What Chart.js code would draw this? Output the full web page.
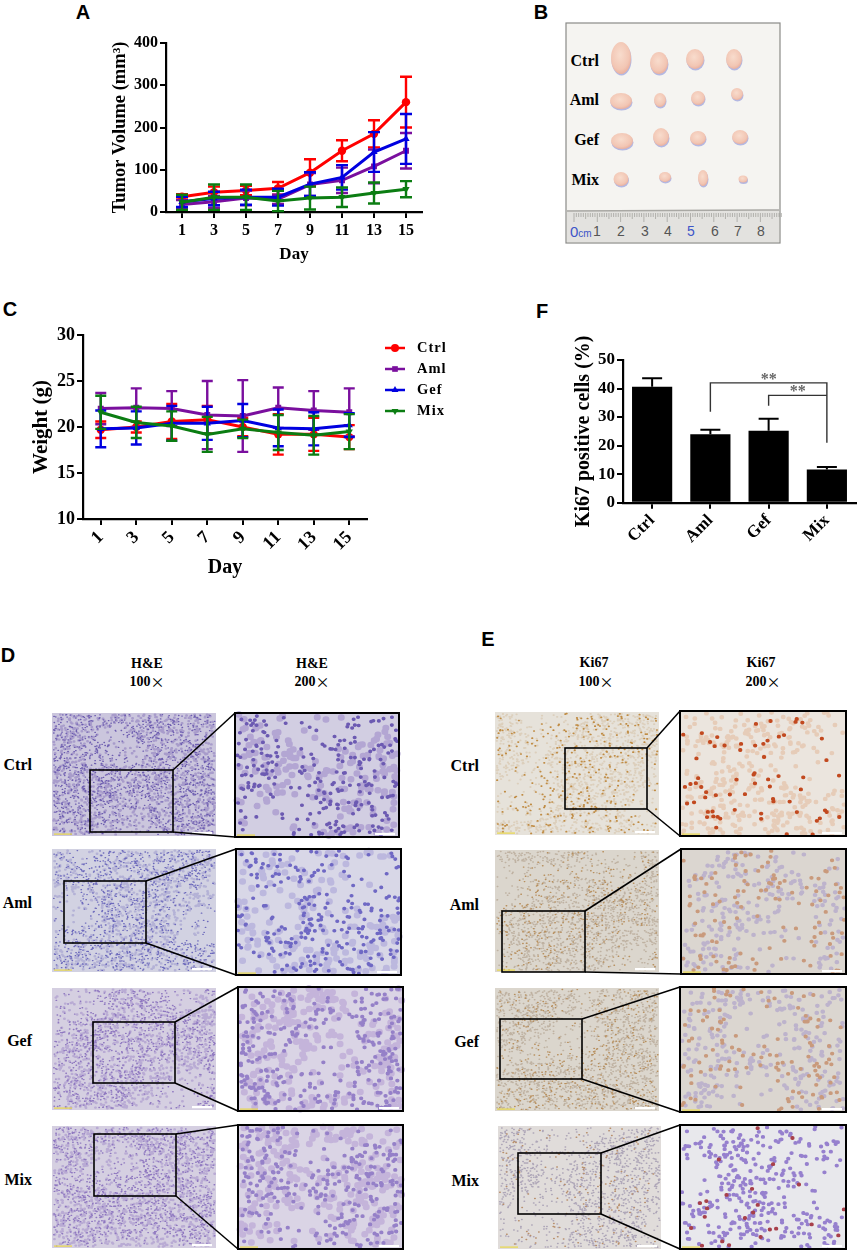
<!DOCTYPE html>
<html>
<head>
<meta charset="utf-8">
<title>Tumor figure</title>
<script src="https://cdn.jsdelivr.net/npm/chart.js@4"></script>
<style>
  html, body { margin: 0; padding: 0; background: #fff; }
  #page { position: relative; width: 858px; height: 1252px; overflow: hidden; }
  #photos { position: absolute; left: 0; top: 0; }
  canvas { position: absolute; }
  #chartA { left: 109px; top: 0; }
  #chartC { left: 29px; top: 300px; }
  #chartF { left: 572px; top: 330px; }
  text { font-family: "Liberation Serif", serif; font-weight: bold; fill: #000; }
  text.letter { font-family: "Liberation Sans", sans-serif; font-size: 20px; }
</style>
</head>
<body>
<div id="page">
  <svg id="photos" width="858" height="1252" xmlns="http://www.w3.org/2000/svg"></svg>
  <canvas id="chartA" width="411" height="265"></canvas>
  <canvas id="chartC" width="431" height="280"></canvas>
  <canvas id="chartF" width="286" height="215"></canvas>
</div>

<script>
const days = ['1', '3', '5', '7', '9', '11', '13', '15'];
const groups = ['Ctrl', 'Aml', 'Gef', 'Mix'];

// panel A, tumor volume
const volumeCtrl = [36, 47, 51, 56, 93, 145, 185, 260];
const volumeAml = [18, 24, 33, 30, 65, 75, 108, 145];
const volumeGef = [24, 32, 35, 35, 66, 82, 142, 173];
const volumeMix = [23, 35, 35, 26, 33, 35, 45, 54];
const volumeCtrlErr = [6, 13, 11, 15, 32, 25, 32, 60];
const volumeAmlErr = [10, 14, 17, 11, 27, 30, 40, 42];
const volumeGefErr = [12, 16, 18, 20, 28, 29, 47, 59];
const volumeMixErr = [18, 30, 30, 24, 27, 23, 25, 19];
const volumeTicks = [0, 100, 200, 300, 400];

// panel C, body weight
const weightCtrl = [19.7, 20.0, 20.6, 20.8, 20.0, 19.2, 19.2, 18.9];
const weightAml = [22.0, 22.1, 22.0, 21.3, 21.2, 22.1, 21.8, 21.6];
const weightGef = [19.8, 19.9, 20.4, 20.4, 20.7, 19.9, 19.8, 20.2];
const weightMix = [21.6, 20.5, 20.1, 19.2, 19.8, 19.4, 19.1, 19.5];
const weightCtrlErr = [0.9, 0.6, 1.9, 1.5, 1.0, 2.2, 1.8, 1.3];
const weightAmlErr = [1.7, 2.1, 1.9, 3.7, 3.9, 2.2, 2.1, 2.6];
const weightGefErr = [2.0, 1.8, 1.9, 1.8, 1.8, 2.0, 1.8, 1.3];
const weightMixErr = [1.8, 1.7, 1.6, 1.9, 1.0, 1.9, 2.1, 1.9];
const weightTicks = [10, 15, 20, 25, 30];

// panel F, Ki67
const ki67 = [40.6, 24, 25.2, 11.6];
const ki67Err = [3, 1.6, 4.2, 0.9];
const ki67Ticks = [0, 10, 20, 30, 40, 50];

const SERIF = 'Liberation Serif';
const RED = '#ff0000', PURPLE = '#7a0f9e', BLUE = '#0000e0', GREEN = '#0b7d12';

function lineSet(label, data, errs, color, pointStyle, order, rotation) {
  return {
    label, data, errs,
    borderColor: color, backgroundColor: color,
    borderWidth: 3, tension: 0,
    pointStyle, pointRadius: 4.2, pointRotation: rotation || 0,
    pointBorderWidth: 0, order
  };
}

// caps and stems follow each dataset so the stacking matches the lines
const errorBars = {
  id: 'errorBars',
  afterDatasetDraw(chart, args) {
    const ds = chart.data.datasets[args.index];
    if (!ds.errs) return;
    const ctx = chart.ctx, y = chart.scales.y, opts = chart.options.plugins.errorBars;
    ctx.save();
    ctx.strokeStyle = ds.errColor || ds.borderColor;
    ctx.lineWidth = opts.width;
    args.meta.data.forEach((pt, i) => {
      const top = y.getPixelForValue(ds.data[i] + ds.errs[i]);
      const bottom = opts.upperOnly ? pt.y : y.getPixelForValue(Math.max(ds.data[i] - ds.errs[i], 0));
      ctx.beginPath();
      ctx.moveTo(pt.x, top); ctx.lineTo(pt.x, bottom);
      ctx.moveTo(pt.x - opts.cap, top); ctx.lineTo(pt.x + opts.cap, top);
      if (!opts.upperOnly) { ctx.moveTo(pt.x - opts.cap, bottom); ctx.lineTo(pt.x + opts.cap, bottom); }
      ctx.stroke();
    });
    ctx.restore();
  }
};

const sideLegend = {
  id: 'sideLegend',
  afterDraw(chart) {
    const o = chart.options.plugins.sideLegend;
    if (!o || !o.x1) return;
    const ctx = chart.ctx;
    ctx.save();
    ctx.font = 'bold ' + o.size + 'px "' + SERIF + '"';
    ctx.letterSpacing = o.spacing;
    ctx.textBaseline = 'middle';
    chart.data.datasets.forEach((ds, i) => {
      const y = o.y + i * o.step;
      ctx.strokeStyle = ds.borderColor;
      ctx.lineWidth = 2.5;
      ctx.beginPath(); ctx.moveTo(o.x1, y); ctx.lineTo(o.x2, y); ctx.stroke();
      ctx.fillStyle = ds.borderColor;
      Chart.helpers.drawPoint(ctx, { pointStyle: ds.pointStyle, rotation: ds.pointRotation, radius: 4, borderWidth: 0 }, (o.x1 + o.x2) / 2, y);
      ctx.fillStyle = '#000';
      ctx.fillText(ds.label, o.text, y);
    });
    ctx.restore();
  }
};

// significance brackets on panel F, [from group, to group, top value, left foot, right foot]
const brackets = [[1, 3, 42, 31.9, 21], [2, 3, 37.6, 34, 37.6]];
const sigBrackets = {
  id: 'sigBrackets',
  afterDraw(chart) {
    if (chart.canvas.id !== 'chartF') return;
    const ctx = chart.ctx, x = chart.scales.x, y = chart.scales.y;
    ctx.save();
    ctx.strokeStyle = '#333';
    ctx.lineWidth = 1.4;
    brackets.forEach(b => {
      const x1 = x.getPixelForValue(b[0]), x2 = x.getPixelForValue(b[1]);
      ctx.beginPath();
      ctx.moveTo(x1, y.getPixelForValue(b[3]));
      ctx.lineTo(x1, y.getPixelForValue(b[2]));
      ctx.lineTo(x2, y.getPixelForValue(b[2]));
      ctx.lineTo(x2, y.getPixelForValue(b[4]));
      ctx.stroke();
      ctx.fillStyle = '#666';
      ctx.font = 'bold 16px "' + SERIF + '"';
      ctx.textAlign = 'center';
      ctx.fillText('**', (x1 + x2) / 2, y.getPixelForValue(b[2]) + 1);
    });
    ctx.restore();
  }
};

function axes(cfg) {
  const tickFont = { family: SERIF, weight: 'bold', size: cfg.tickSize };
  return {
    x: {
      type: 'category',
      offset: true,
      afterFit(scale) { scale.height = cfg.xHeight; },
      border: { color: '#000', width: 2.2 },
      grid: { drawOnChartArea: false, drawTicks: true, tickLength: 6, tickColor: '#000', lineWidth: 2, offset: false },
      ticks: { color: '#000', font: tickFont, padding: cfg.xPad, minRotation: cfg.rotate, maxRotation: cfg.rotate, autoSkip: false },
      title: { display: !!cfg.xTitle, text: cfg.xTitle, color: '#000', padding: 0, font: { family: SERIF, weight: 'bold', size: cfg.xTitleSize } }
    },
    y: {
      min: cfg.ticks[0],
      max: cfg.ticks[cfg.ticks.length - 1],
      afterFit(scale) { scale.width = cfg.yWidth; },
      afterBuildTicks(scale) { scale.ticks = cfg.ticks.map(v => ({ value: v })); },
      border: { color: '#000', width: 2.2 },
      grid: { drawOnChartArea: false, drawTicks: true, tickLength: 6, tickColor: '#000', lineWidth: 2 },
      ticks: { color: '#000', font: tickFont, padding: 2 },
      title: { display: true, text: cfg.yTitle, color: '#000', padding: 0, font: { family: SERIF, weight: 'bold', size: cfg.yTitleSize } }
    }
  };
}

function baseOptions(padding, scales, plugins) {
  return {
    responsive: false,
    animation: false,
    events: [],
    layout: { autoPadding: false, padding },
    scales,
    plugins: Object.assign({ legend: { display: false }, tooltip: { enabled: false }, title: { display: false } }, plugins)
  };
}

new Chart(document.getElementById('chartA'), {
  type: 'line',
  data: {
    labels: days,
    datasets: [
      lineSet(groups[0], volumeCtrl, volumeCtrlErr, RED, 'circle', 3),
      lineSet(groups[1], volumeAml, volumeAmlErr, PURPLE, 'rect', 2),
      lineSet(groups[2], volumeGef, volumeGefErr, BLUE, 'triangle', 1),
      lineSet(groups[3], volumeMix, volumeMixErr, GREEN, 'triangle', 0, 180)
    ]
  },
  options: baseOptions({ left: 0, top: 43, right: 98, bottom: 0 },
    axes({ ticks: volumeTicks, tickSize: 16, xHeight: 53, yWidth: 57, xPad: 3, yTitle: 'Tumor Volume (mm³)', yTitleSize: 18.5, xTitle: 'Day', xTitleSize: 17, rotate: 0 }),
    {
      errorBars: { width: 2.4, cap: 6 },
      sideLegend: { x1: 437, x2: 456, text: 466, y: 47, step: 19.4, size: 15, spacing: '0px' }
    }),
  plugins: [errorBars, sideLegend]
});

new Chart(document.getElementById('chartC'), {
  type: 'line',
  data: {
    labels: days,
    datasets: [
      lineSet(groups[0], weightCtrl, weightCtrlErr, RED, 'circle', 3),
      lineSet(groups[1], weightAml, weightAmlErr, PURPLE, 'rect', 2),
      lineSet(groups[2], weightGef, weightGefErr, BLUE, 'triangle', 1),
      lineSet(groups[3], weightMix, weightMixErr, GREEN, 'triangle', 0, 180)
    ]
  },
  options: baseOptions({ left: 0, top: 35, right: 93, bottom: 0 },
    axes({ ticks: weightTicks, tickSize: 18, xHeight: 61, yWidth: 54, xPad: 2, yTitle: 'Weight (g)', yTitleSize: 21, xTitle: 'Day', xTitleSize: 20, rotate: 45 }),
    {
      errorBars: { width: 2.4, cap: 5.5 },
      sideLegend: { x1: 356, x2: 376, text: 388, y: 48, step: 21, size: 14.5, spacing: '1px' }
    }),
  plugins: [errorBars, sideLegend]
});

new Chart(document.getElementById('chartF'), {
  type: 'bar',
  data: {
    labels: groups,
    datasets: [{
      label: 'Ki67',
      data: ki67, errs: ki67Err, errColor: '#000',
      backgroundColor: '#000',
      barPercentage: 0.69, categoryPercentage: 1
    }]
  },
  options: baseOptions({ left: 0, top: 30, right: 2, bottom: 0 },
    axes({ ticks: ki67Ticks, tickSize: 17, xHeight: 42.3, yWidth: 51, xPad: 2, yTitle: 'Ki67 positive cells (%)', yTitleSize: 20, rotate: 45 }),
    { errorBars: { width: 2, cap: 10, upperOnly: true } }),
  plugins: [errorBars, sigBrackets]
});

// ---- photographic panels, only a rough stand-in for the micrographs
const svg = document.getElementById('photos');
let markup = '<defs><radialGradient id="tissue" cx="45%" cy="40%" r="65%"><stop offset="0" stop-color="#f8dccd"/><stop offset="0.7" stop-color="#f2c6b4"/><stop offset="1" stop-color="#e8aa98"/></radialGradient></defs>';
let panelNo = 1;

function label(txt, x, y, size, anchor) {
  markup += `<text x="${x}" y="${y}" font-size="${size}" text-anchor="${anchor || 'middle'}" dominant-baseline="central">${txt}</text>`;
}

// fixed hash, so the stipple comes out the same on every load
const hash = v => { const h = Math.sin(v * 12.9898) * 43758.5453; return h - Math.floor(h); };

// round dabs scattered over the panel, thinned where the tissue opens up
function cells(box, layer, s) {
  const [x1, y1, x2, y2] = box, w = x2 - x1, h = y2 - y1;
  const [color, n, width] = layer;
  let d = '';
  for (let i = 1; i <= n; i++) {
    const x = hash(s * 31 + i * 1.37) * (w - 3) + 1.5, y = hash(s * 17 + i * 2.11) * (h - 3) + 1.5;
    const field = Math.sin(x * 0.045 + s) + Math.sin(y * 0.06 + 2 * s) + Math.sin((x + y) * 0.035 + 3 * s);
    if (field < -0.9 && hash(i * 0.73) < 0.75) continue;
    d += `M${(x1 + x).toFixed(1)} ${(y1 + y).toFixed(1)}h.5`;
  }
  markup += `<path d="${d}" fill="none" stroke="${color}" stroke-width="${width}" stroke-linecap="round"/>`;
}

function micro(box, style, framed) {
  const [x1, y1, x2, y2] = box, w = x2 - x1, h = y2 - y1;
  const s = panelNo++;
  markup += `<rect x="${x1}" y="${y1}" width="${w}" height="${h}" fill="${style.base}"/>`;
  style.layers.forEach((l, k) => cells(box, l, s + k * 0.37));
  markup += `<rect x="${x1 + 2}" y="${y2 - 2.5}" width="18" height="1.2" fill="#e8d84a"/>`;
  markup += `<rect x="${x2 - 24}" y="${y2 - 4}" width="20" height="2.2" fill="#fff"/>`;
  if (framed) markup += `<rect x="${x1}" y="${y1}" width="${w}" height="${h}" fill="none" stroke="#000" stroke-width="2"/>`;
}

function row(left, right, inset, leftStyle, rightStyle) {
  micro(left, leftStyle, false);
  micro(right, rightStyle, true);
  const [ix1, iy1, ix2, iy2] = inset;
  markup += `<rect x="${ix1}" y="${iy1}" width="${ix2 - ix1}" height="${iy2 - iy1}" fill="none" stroke="#000" stroke-width="1.6"/>`;
  markup += `<line x1="${ix2}" y1="${iy1}" x2="${right[0]}" y2="${right[1]}" stroke="#000" stroke-width="1.5"/>`;
  markup += `<line x1="${ix2}" y1="${iy2}" x2="${right[0]}" y2="${right[3]}" stroke="#000" stroke-width="1.5"/>`;
}

const heCtrlL = { base: '#cbc6dd', layers: [['#a89ccb', 1400, 2.4], ['#6d5db0', 1500, 1.3]] };
const heCtrlR = { base: '#d2cee2', layers: [['#b3a6d3', 260, 6.5], ['#6c5ab2', 330, 3.6]] };
const heAmlL = { base: '#d2d2e2', layers: [['#b4b2d6', 1200, 2.4], ['#6c69bc', 1300, 1.3]] };
const heAmlR = { base: '#d8d7e7', layers: [['#bcb8de', 220, 6.5], ['#6f68c4', 340, 3.6]] };
const heGefL = { base: '#d5cfe1', layers: [['#b9abd4', 1300, 2.4], ['#8f78c0', 1300, 1.4]] };
const heGefR = { base: '#dad4e5', layers: [['#c4b4da', 300, 6.5], ['#9580c8', 380, 3.8]] };
const kiCtrlL = { base: '#e6e2da', layers: [['#dccfbc', 1800, 1.8], ['#c08c44', 420, 1.7]] };
const kiCtrlR = { base: '#ebe5de', layers: [['#e6ccb8', 400, 4.4], ['#c2491f', 75, 3.8]] };
const kiAmlL = { base: '#dbd6cd', layers: [['#bfb2a2', 2000, 1.5], ['#b8905f', 520, 1.4]] };
const kiAmlR = { base: '#dbd6d0', layers: [['#bdb3cc', 300, 4.2], ['#c99a7c', 140, 3.8]] };
const kiMixL = { base: '#e0dcda', layers: [['#aea6b8', 1700, 1.5], ['#b88f6c', 220, 1.5]] };
const kiMixR = { base: '#e8e8ec', layers: [['#9680ce', 400, 3.8], ['#a8404a', 28, 3.8]] };

// panel D
row([52, 713, 216, 836], [235, 713, 399, 837], [90, 770, 173, 832], heCtrlL, heCtrlR);
row([52, 849, 216, 972], [236, 849, 401, 975], [64, 881, 146, 943], heAmlL, heAmlR);
row([52, 988, 216, 1110], [238, 987, 403, 1111], [93, 1022, 175, 1083], heGefL, heGefR);
row([52, 1126, 216, 1248], [238, 1125, 403, 1249], [94, 1134, 176, 1196], heGefL, heGefR);
// panel E
row([495, 712, 659, 835], [680, 711, 846, 836], [565, 748, 647, 809], kiCtrlL, kiCtrlR);
row([495, 850, 659, 972], [681, 849, 846, 974], [502, 911, 585, 972], kiAmlL, kiAmlR);
row([495, 988, 659, 1111], [680, 987, 846, 1112], [500, 1019, 582, 1079], kiAmlL, kiAmlR);
row([498, 1126, 661, 1249], [680, 1125, 846, 1249], [518, 1153, 601, 1214], kiMixL, kiMixR);

groups.forEach((g, i) => {
  label(g, 32, [764, 902, 1040, 1179][i], 16, 'end');
  label(g, 479, [765, 904, 1041, 1180][i], 16, 'end');
  label(g, 599, [60, 99, 139, 179][i], 16, 'end');
});

const timesMark = '<tspan font-family="Noto Sans CJK SC" font-weight="400">×</tspan>';
label('H&amp;E', 147, 663, 14);
label('100' + timesMark, 147, 681, 14);
label('H&amp;E', 312, 663, 14);
label('200' + timesMark, 312, 681, 14);
label('Ki67', 594, 662, 14);
label('100' + timesMark, 596, 681, 14);
label('Ki67', 761, 662, 14);
label('200' + timesMark, 763, 681, 14);

// panel B
const bTop = `<rect x="566" y="23" width="214" height="220" fill="#f5f4f1" stroke="#8a8a88" stroke-width="1.2"/>` +
  `<rect x="567" y="210" width="212" height="32" fill="#e3e2df"/>` +
  `<line x1="567" y1="211" x2="779" y2="210" stroke="#a9a8a4" stroke-width="1.5"/>`;
let bMarks = '';
for (let i = 0; i < 90; i++) {
  const tx = 574 + i * 2.33;
  bMarks += `<line x1="${tx}" y1="213" x2="${tx}" y2="${i % 10 === 0 ? 222 : i % 5 === 0 ? 219 : 217}" stroke="#8f8e8a" stroke-width="0.6"/>`;
}
const lumps = [
  [621, 58, 10, 16], [659, 63, 9, 11], [695, 59, 9, 10], [734, 59, 8, 10],
  [621, 101, 11, 8], [660, 100, 6, 7], [698, 98, 7, 7], [737, 94, 6, 6],
  [622, 141, 11, 8], [661, 137, 8, 9], [698, 138, 8, 7], [740, 137, 8, 7],
  [621, 179, 7.5, 7], [665, 177, 6, 5], [703, 178, 5, 8], [743, 179, 4.5, 3.5]
];
let bLumps = '';
lumps.forEach(l => {
  bLumps += `<ellipse cx="${l[0] + 0.5}" cy="${l[1] + 1.5}" rx="${l[2]}" ry="${l[3]}" fill="#b4b8e2"/>`;
  bLumps += `<ellipse cx="${l[0]}" cy="${l[1]}" rx="${l[2]}" ry="${l[3]}" fill="url(#tissue)"/>`;
});
svg.innerHTML = bTop + bMarks + bLumps + markup;

// ruler numbers and panel letters go on last
let tail = '';
['1', '2', '3', '4', '5', '6', '7', '8'].forEach((n, i) => {
  const x = [597, 621, 645, 668, 691, 715, 738, 761][i];
  const c = n === '5' ? '#3d55c8' : '#555';
  tail += `<text x="${x}" y="236" font-size="14" text-anchor="middle" style="font-family:'Liberation Sans';font-weight:400;fill:${c}">${n}</text>`;
});
tail += `<text x="570" y="237" font-size="15" style="font-family:'Liberation Sans';font-weight:400;fill:#3d55c8">0<tspan font-size="10">cm</tspan></text>`;
[['A', 83, 19], ['B', 541, 19], ['C', 10, 316], ['F', 542, 318], ['D', 8, 662], ['E', 488, 646]].forEach(t => {
  tail += `<text class="letter" x="${t[1]}" y="${t[2]}" text-anchor="middle">${t[0]}</text>`;
});
svg.insertAdjacentHTML('beforeend', tail);
</script>
</body>
</html>
